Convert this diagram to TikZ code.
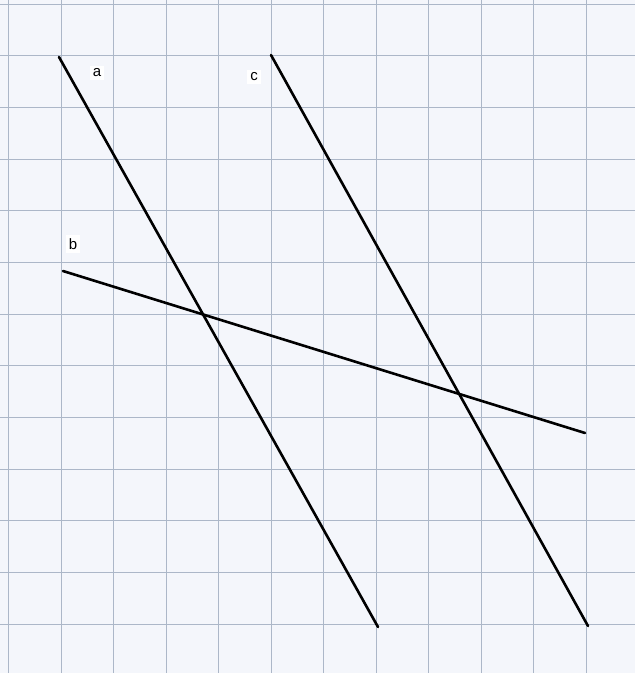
\documentclass[tikz,border=0pt]{standalone}
\usepackage{fontspec}
\setmainfont{Liberation Sans}
\definecolor{paper}{RGB}{244,246,251}
\definecolor{gridc}{RGB}{172,183,200}
\tikzset{
  gridline/.style={draw=gridc, line width=1pt},
  lineseg/.style={draw=black, line width=2.6pt, line cap=round},
  lbl/.style={fill=white, inner sep=3pt, font=\fontsize{15}{17}\selectfont}
}
\begin{document}
\begin{tikzpicture}[x=1pt,y=-1pt]
\fill[paper] (0,0) rectangle (635,673);
\useasboundingbox (0,0) rectangle (635,673);
% grid
\foreach \i in {0,...,11} {
  \draw[gridline] ({8.5+52.5*\i},0) -- ({8.5+52.5*\i},673);
}
\foreach \j in {0,...,12} {
  \draw[gridline] (0,{4+51.67*\j}) -- (635,{4+51.67*\j});
}
% endpoints
\coordinate (a1) at (59,57);
\coordinate (a2) at (378,627);
\coordinate (c1) at (271,55);
\coordinate (c2) at (588,626);
\coordinate (b1) at (63,271);
\coordinate (b2) at (585,433);
\draw[lineseg] (a1) -- (a2);
\draw[lineseg] (c1) -- (c2);
\draw[lineseg] (b1) -- (b2);
% labels
\node[lbl] (la) at (97,73) {a};
\node[lbl] (lc) at (254,77) {c};
\node[lbl] (lb) at (73,244) {b};
\end{tikzpicture}
\end{document}
